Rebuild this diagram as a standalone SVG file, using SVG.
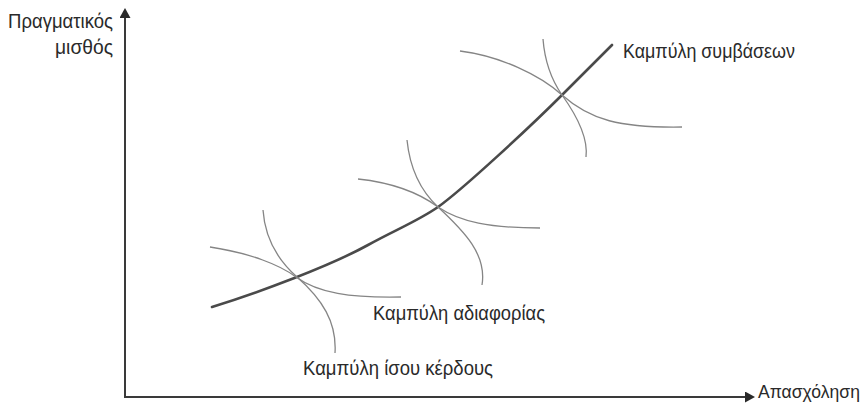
<svg xmlns="http://www.w3.org/2000/svg" width="867" height="407" viewBox="0 0 867 407">
<style>
text{font-family:"Liberation Sans","Noto Sans",sans-serif;font-size:21px;fill:#2a2a2a}
.axis{stroke:#3a3a3a;stroke-width:2;fill:none}
.main{stroke:#4a4a4a;stroke-width:2.6;fill:none;stroke-linecap:round}
.thin{stroke:#858585;stroke-width:1.3;fill:none}
</style>
<defs>
<marker id="arr" markerUnits="userSpaceOnUse" viewBox="0 0 10 11" markerWidth="10" markerHeight="11" refX="0" refY="5.5" orient="auto">
<path d="M0,0 L10,5.5 L0,11 z" fill="#2a2a2a"/>
</marker>
</defs>
<g id="axes">
<path class="axis" d="M125,397 L125,18" marker-end="url(#arr)"/>
<path class="axis" d="M124,397 L745,397" marker-end="url(#arr)"/>
<text x="113" y="28" text-anchor="end" textLength="105" lengthAdjust="spacingAndGlyphs">Πραγματικός</text>
<text x="113" y="54" text-anchor="end" textLength="58" lengthAdjust="spacingAndGlyphs">μισθός</text>
<text x="758" y="398" style="font-size:19px" textLength="102" lengthAdjust="spacingAndGlyphs">Απασχόληση</text>
</g>
<g id="connectors">
<path id="contract-curve" class="main" d="M212,307 C260,292 330,266 368,245 C395,230 418,221 438,207 C462,190 530,127 562,95 L612,45"/>
<path id="indiff-1" class="thin" d="M210,247 C250,253 280,265 296,277 C318,293 350,298 401,297"/>
<path id="isoprofit-1" class="thin" d="M263,210 C265,240 280,262 297,277 C322,299 337,322 335,353"/>
<path id="indiff-2" class="thin" d="M358,179 C395,183 422,195 438,207 C460,222 490,228 540,228"/>
<path id="isoprofit-2" class="thin" d="M407,140 C410,170 422,192 438,207 C465,232 487,255 482,285"/>
<path id="indiff-3" class="thin" d="M460,51 C500,56 540,75 562,95 C590,120 620,128 682,127"/>
<path id="isoprofit-3" class="thin" d="M543,39 C545,65 553,82 562,95 C580,120 588,140 586,157"/>
</g>
<g id="label-contract"><text x="623" y="58" textLength="172" lengthAdjust="spacingAndGlyphs">Καμπύλη συμβάσεων</text></g>
<g id="label-indifference"><text x="373" y="320" textLength="172" lengthAdjust="spacingAndGlyphs">Καμπύλη αδιαφορίας</text></g>
<g id="label-isoprofit"><text x="303" y="375" textLength="190" lengthAdjust="spacingAndGlyphs">Καμπύλη ίσου κέρδους</text></g>
</svg>
